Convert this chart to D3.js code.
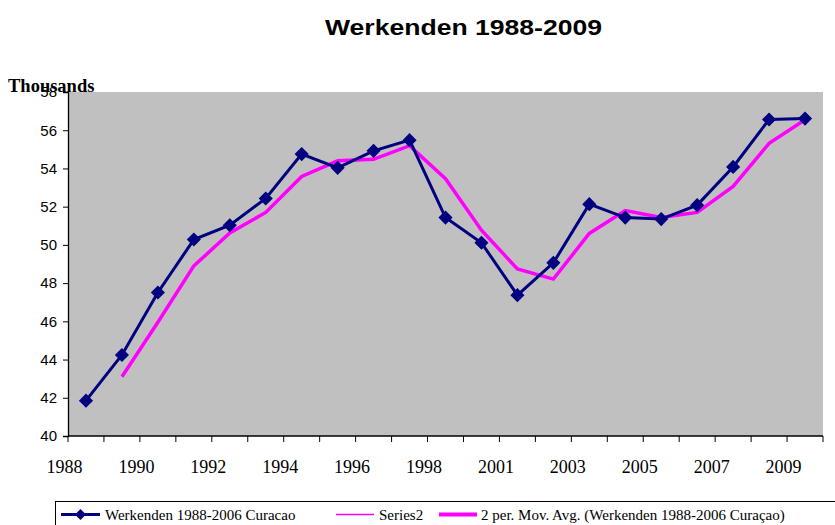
<!DOCTYPE html>
<html>
<head>
<meta charset="utf-8">
<script src="https://cdn.jsdelivr.net/npm/d3@7"></script>
<style>
  body { margin: 0; background: #fff; }
  .ytick { font-family: Arial, "Liberation Sans", sans-serif; font-size: 15px; }
  .xtick { font-family: "Times New Roman", "Liberation Serif", serif; font-size: 18px; }
</style>
</head>
<body>
<div id="chart"></div>
<script>
// categories (1999 is not in the data)
var years = [1988, 1989, 1990, 1991, 1992, 1993, 1994, 1995, 1996, 1997, 1998,
             2000, 2001, 2002, 2003, 2004, 2005, 2006, 2007, 2008, 2009];
// werkenden, thousands
var werkenden = [41.85, 44.24, 47.51, 50.28, 51.03, 52.43, 54.75, 54.03, 54.92, 55.48, 51.43,
                 50.11, 47.37, 49.06, 52.13, 51.43, 51.35, 52.08, 54.08, 56.56, 56.61];
// 2 per. moving average (first year has none)
var movAvg = [null, 43.1, 45.95, 48.9, 50.62, 51.7, 53.58, 54.4, 54.48, 55.19, 53.46,
              50.77, 48.74, 48.21, 50.6, 51.8, 51.43, 51.7, 53.06, 55.31, 56.55];
// every second category gets a label
var xLabels = ["1988", "1990", "1992", "1994", "1996", "1998", "2001", "2003", "2005", "2007", "2009"];
var yTicks = [40, 42, 44, 46, 48, 50, 52, 54, 56, 58];
var legendNames = ["Werkenden 1988-2006 Curacao", "Series2", "2 per. Mov. Avg. (Werkenden 1988-2006 Curaçao)"];

var W = 835, H = 525;
var pLeft = 68, pRight = 823, pTop = 92, pBottom = 436;

var svg = d3.select("#chart").append("svg")
    .attr("width", W)
    .attr("height", H);

var x = d3.scaleBand()
    .domain(d3.range(years.length))
    .range([pLeft, pRight]);

var y = d3.scaleLinear()
    .domain([40, 58])
    .range([pBottom, pTop]);

// plot area
svg.append("rect")
    .attr("x", pLeft)
    .attr("y", pTop)
    .attr("width", pRight - pLeft)
    .attr("height", pBottom - pTop)
    .attr("fill", "#c0c0c0");

// title
svg.append("text")
    .attr("x", 325)
    .attr("y", 35)
    .attr("textLength", 277)
    .attr("lengthAdjust", "spacingAndGlyphs")
    .style("font-family", "Arial, 'Liberation Sans', sans-serif")
    .style("font-weight", "bold")
    .style("font-size", "22px")
    .text("Werkenden 1988-2009");

// y axis
var yAxis = svg.append("g")
    .attr("transform", "translate(" + pLeft + ",0)")
    .call(d3.axisLeft(y).tickValues(yTicks).tickSize(5).tickPadding(6).tickFormat(d3.format("d")));
yAxis.select(".domain").attr("stroke", "#000").attr("stroke-width", 1.3);
yAxis.selectAll("text").attr("class", "ytick").attr("fill", "#000");

// x axis: ticks on category boundaries
var xb = svg.append("g").attr("transform", "translate(0," + pBottom + ")");
xb.append("line")
    .attr("x1", pLeft).attr("x2", pRight)
    .attr("stroke", "#000").attr("stroke-width", 1.3);
xb.selectAll(".tk")
    .data(d3.range(years.length + 1))
    .enter().append("line")
    .attr("class", "tk")
    .attr("x1", function(i) { return i < years.length ? x(i) : pRight; })
    .attr("x2", function(i) { return i < years.length ? x(i) : pRight; })
    .attr("y1", 0).attr("y2", 6)
    .attr("stroke", "#000");
xb.selectAll(".xtick")
    .data(xLabels)
    .enter().append("text")
    .attr("class", "xtick")
    .attr("x", function(d, k) { return x(k * 2) - 3.5; })
    .attr("y", 37)
    .attr("text-anchor", "middle")
    .text(function(d) { return d; });

// "Thousands" unit label
svg.append("text")
    .attr("x", 8)
    .attr("y", 92)
    .style("font-family", "'Times New Roman', 'Liberation Serif', serif")
    .style("font-weight", "bold")
    .style("font-size", "18.5px")
    .text("Thousands");

function cx(i) { return x(i) + x.bandwidth() / 2; }

// moving average
var avgLine = d3.line()
    .defined(function(d) { return d != null; })
    .x(function(d, i) { return cx(i); })
    .y(function(d) { return y(d); });

svg.append("path")
    .datum(movAvg)
    .attr("fill", "none")
    .attr("stroke", "#ff00ff")
    .attr("stroke-width", 3.5)
    .attr("d", avgLine);

// main series
var mainLine = d3.line()
    .x(function(d, i) { return cx(i); })
    .y(function(d) { return y(d); });

svg.append("path")
    .datum(werkenden)
    .attr("fill", "none")
    .attr("stroke", "#000080")
    .attr("stroke-width", 3)
    .attr("d", mainLine);

svg.selectAll(".pt")
    .data(werkenden)
    .enter().append("path")
    .attr("class", "pt")
    .attr("d", d3.symbol().type(d3.symbolSquare).size(100))
    .attr("transform", function(d, i) { return "translate(" + cx(i) + "," + y(d) + ") rotate(45)"; })
    .attr("fill", "#000080");

// legend
var lg = svg.append("g");
lg.append("rect")
    .attr("x", 55.5).attr("y", 501.5)
    .attr("width", 800).attr("height", 40)
    .attr("fill", "#fff").attr("stroke", "#000");

var legendItems = [
  { name: legendNames[0], x1: 61, x2: 100, tx: 105, color: "#000080", w: 3, marker: true },
  { name: legendNames[1], x1: 336, x2: 374, tx: 379, color: "#ff00ff", w: 1.5, marker: false },
  { name: legendNames[2], x1: 439, x2: 477, tx: 481, color: "#ff00ff", w: 4, marker: false }
];
var ly = 514.5;
legendItems.forEach(function(it) {
  lg.append("line")
    .attr("x1", it.x1).attr("x2", it.x2)
    .attr("y1", ly).attr("y2", ly)
    .attr("stroke", it.color).attr("stroke-width", it.w);
  if (it.marker) {
    lg.append("path")
      .attr("d", d3.symbol().type(d3.symbolSquare).size(60))
      .attr("transform", "translate(" + ((it.x1 + it.x2) / 2) + "," + ly + ") rotate(45)")
      .attr("fill", it.color);
  }
  lg.append("text")
    .attr("x", it.tx).attr("y", 519.5)
    .style("font-family", "'Times New Roman', 'Liberation Serif', serif")
    .style("font-size", "15px")
    .text(it.name);
});
</script>
</body>
</html>
